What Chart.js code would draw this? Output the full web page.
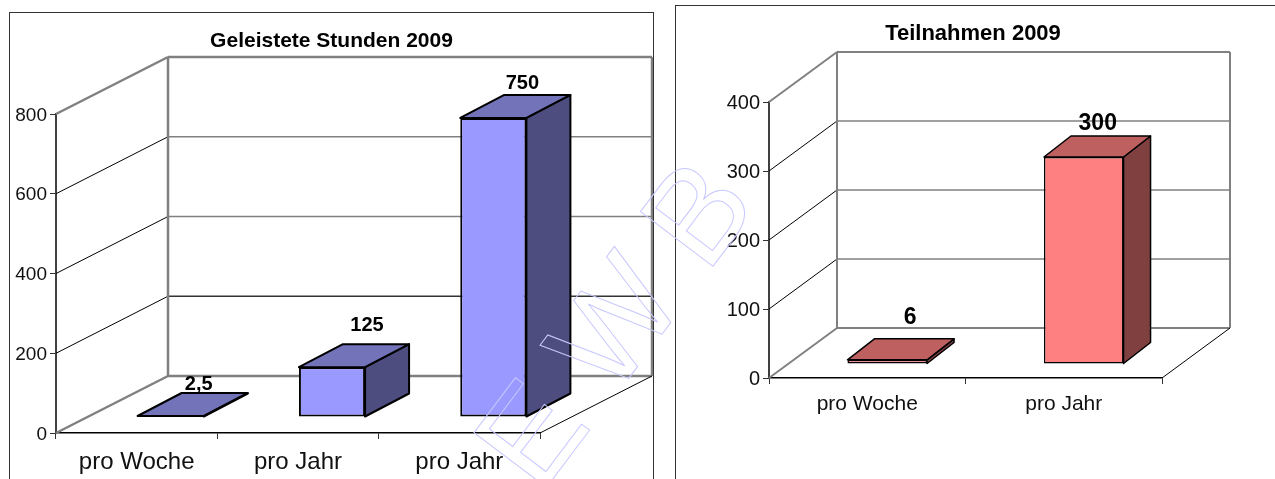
<!DOCTYPE html>
<html>
<head>
<meta charset="utf-8">
<title>Stunden und Teilnahmen 2009</title>
<script src="https://cdn.jsdelivr.net/npm/chart.js@4"></script>
<style>
    html, body { margin: 0; background: #fff; overflow: hidden; }
    body { width: 1275px; height: 479px; position: relative; }
    .frame { position: absolute; border: 1.5px solid #333; box-sizing: border-box; }
    #frameHours { left: 9px; top: 12px; width: 645px; height: 500px; }
    #frameEntries { left: 675px; top: 5px; width: 640px; height: 500px; }
    canvas { position: absolute; }
    #hoursChart { left: 10px; top: 13px; }
    #entriesChart { left: 676px; top: 7px; }
    #stamp { position: absolute; left: 0; top: 0; pointer-events: none; }
</style>
</head>
<body>
<div class="frame" id="frameHours"></div>
<div class="frame" id="frameEntries"></div>
<canvas id="hoursChart" width="643" height="466"></canvas>
<canvas id="entriesChart" width="599" height="472"></canvas>
<svg id="stamp" width="1275" height="479">
    <text transform="translate(540,496) rotate(-53)" fill="none" stroke="#c8c8ff" stroke-width="1"
          font-family="Liberation Sans" font-size="132" letter-spacing="32">EWB</text>
</svg>
<script>
const hoursLabels = ["pro Woche", "pro Jahr", "pro Jahr"];
const hoursValues = [2.5, 125, 750];
const hoursTitle = "Geleistete Stunden 2009";

const entriesLabels = ["pro Woche", "pro Jahr"];
const entriesValues = [6, 300];
const entriesTitle = "Teilnahmen 2009";

const FONT = "'Liberation Sans', Arial, sans-serif";
const GREY = "#808080";

const line = (ctx, color, width, x1, y1, x2, y2) => {
    ctx.strokeStyle = color;
    ctx.lineWidth = width;
    ctx.beginPath();
    ctx.moveTo(x1, y1);
    ctx.lineTo(x2, y2);
    ctx.stroke();
};

const face = (ctx, color, width, points) => {
    ctx.fillStyle = color;
    ctx.strokeStyle = "#000";
    ctx.lineWidth = width;
    ctx.lineJoin = "round";
    ctx.beginPath();
    points.forEach((p, i) => (i ? ctx.lineTo(p[0], p[1]) : ctx.moveTo(p[0], p[1])));
    ctx.closePath();
    ctx.fill();
    ctx.stroke();
};

// fake 3D: back wall behind the chart area, bars pushed into the floor
const box3d = {
    id: "box3d",
    afterLayout(chart, args, o) {
        chart.titleBlock.left = 0;
        chart.titleBlock.right = o.titleRight;
    },
    beforeDatasetsDraw(chart, args, o) {
        const { ctx, chartArea, scales } = chart;
        const { left, right } = chartArea;
        const y0 = scales.y.getPixelForValue(0);
        const yMax = scales.y.getPixelForValue(scales.y.max);
        ctx.save();
        scales.y.ticks.forEach((tick) => {
            const y = scales.y.getPixelForValue(tick.value);
            const edge = tick.value === 0 || tick.value === scales.y.max;
            const dark = o.darkRows.includes(tick.value);
            line(ctx, edge ? GREY : "#000", edge ? o.wallWidth : 1, left, y, left + o.wallX, y - o.wallY);
            line(ctx, dark ? "#333" : GREY, edge ? o.wallWidth : o.rowWidth, left + o.wallX, y - o.wallY, right + o.wallX, y - o.wallY);
        });
        line(ctx, GREY, o.wallWidth, left + o.wallX, yMax - o.wallY, left + o.wallX, y0 - o.wallY);
        line(ctx, GREY, o.wallWidth, right + o.wallX, yMax - o.wallY, right + o.wallX, y0 - o.wallY);
        line(ctx, "#000", 1, right, y0, right + o.wallX, y0 - o.wallY);
        ctx.restore();
    },
    beforeDatasetDraw(chart, args, o) {
        const { ctx } = chart;
        ctx.save();
        ctx.translate(o.shiftX, -o.shiftY);
        chart.getDatasetMeta(args.index).data.forEach((bar) => {
            const { x, y, base, width } = bar.getProps(["x", "y", "base", "width"]);
            const r = x + width / 2;
            const l = x - width / 2;
            face(ctx, o.sideColor, o.edge, [[r, y], [r + o.sideX, y - o.sideY], [r + o.sideX, base - o.sideY], [r, base]]);
            face(ctx, o.topColor, o.edge, [[l, y], [l + o.sideX, y - o.sideY], [r + o.sideX, y - o.sideY], [r, y]]);
        });
    },
    afterDatasetDraw(chart) {
        chart.ctx.restore();
    },
    afterDatasetsDraw(chart, args, o) {
        const { ctx } = chart;
        const values = chart.data.datasets[0].data;
        ctx.save();
        ctx.fillStyle = "#000";
        ctx.font = "bold " + o.labelSize + "px " + FONT;
        ctx.textAlign = "center";
        ctx.textBaseline = "middle";
        chart.getDatasetMeta(0).data.forEach((bar, i) => {
            const { x, y } = bar.getProps(["x", "y"]);
            const text = String(values[i]).replace(".", ",");
            ctx.fillText(text, x + o.shiftX + o.labelOffsets[i][0], y - o.shiftY + o.labelOffsets[i][1]);
        });
        ctx.restore();
    },
};

const sendOption = (v) => ({
    responsive: false,
    animation: false,
    events: [],
    layout: { padding: { right: 113 } },
    plugins: {
        legend: { display: false },
        tooltip: { enabled: false },
        title: {
            display: true,
            text: v.title,
            color: "#000",
            font: { family: FONT, size: v.titleSize, weight: "bold", lineHeight: 1.2 },
            padding: { top: v.titleTop, bottom: v.titleBottom },
        },
        box3d: v.box,
    },
    scales: {
        x: {
            type: "category",
            afterFit: (scale) => { scale.height = v.xHeight; },
            border: { color: "#000", width: 1.5 },
            grid: { drawOnChartArea: false, tickLength: 6, tickColor: "#333" },
            ticks: {
                color: "#111",
                autoSkip: false,
                maxRotation: 0,
                padding: v.xPad,
                font: { family: FONT, size: v.xSize },
            },
        },
        y: {
            type: "linear",
            min: 0,
            max: v.max,
            afterFit: (scale) => { scale.width = v.yWidth; },
            border: { color: "#404040", width: 2 },
            grid: { drawOnChartArea: false, tickLength: 6, tickColor: "#333" },
            ticks: {
                color: "#111",
                stepSize: v.step,
                padding: 3,
                labelOffset: 1.5,
                font: { family: FONT, size: v.ySize },
            },
        },
    },
});

new Chart(document.getElementById("hoursChart"), {
    type: "bar",
    plugins: [box3d],
    data: {
        labels: hoursLabels,
        datasets: [{
            data: hoursValues,
            backgroundColor: "#9999ff",
            borderColor: "#000",
            borderWidth: 2,
            borderSkipped: false,
            categoryPercentage: 1,
            barPercentage: 0.41,
            clip: false,
        }],
    },
    options: sendOption({
        title: hoursTitle, titleSize: 21, titleTop: 15.5, titleBottom: 60.3,
        xHeight: 46, xPad: 9, xSize: 24, yWidth: 46, ySize: 19, max: 800, step: 200,
        box: {
            titleRight: 643, wallX: 112, wallY: 57, shiftX: 34, shiftY: 16, sideX: 44, sideY: 23,
            edge: 2, wallWidth: 2.5, rowWidth: 1.5, darkRows: [200], sideColor: "#4d4d80", topColor: "#7373b9",
            labelSize: 20, labelOffsets: [[28, -32], [35, -42], [29, -34]],
        },
    }),
});

new Chart(document.getElementById("entriesChart"), {
    type: "bar",
    plugins: [box3d],
    data: {
        labels: entriesLabels,
        datasets: [{
            data: entriesValues,
            backgroundColor: "#ff8080",
            borderColor: "#000",
            borderWidth: 1.5,
            borderSkipped: false,
            categoryPercentage: 1,
            barPercentage: 0.405,
            clip: false,
        }],
    },
    options: sendOption({
        title: entriesTitle, titleSize: 22, titleTop: 14, titleBottom: 54.6,
        xHeight: 101, xPad: 8, xSize: 21, yWidth: 93, ySize: 20, max: 400, step: 100,
        box: {
            titleRight: 594, wallX: 68, wallY: 50, shiftX: 20, shiftY: 14, sideX: 27, sideY: 21,
            edge: 1.5, wallWidth: 2, rowWidth: 1.5, darkRows: [], sideColor: "#804040", topColor: "#bf6060",
            labelSize: 23, labelOffsets: [[23, -42], [14, -33]],
        },
    }),
});
</script>
</body>
</html>
